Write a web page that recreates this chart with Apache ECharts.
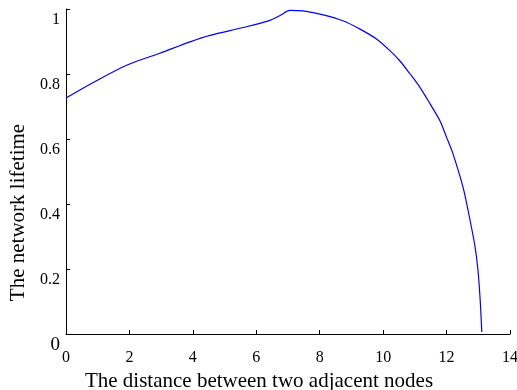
<!DOCTYPE html>
<html>
<head>
<meta charset="utf-8">
<script src="https://cdn.jsdelivr.net/npm/echarts@6/dist/echarts.min.js"></script>
<style>
html, body { margin: 0; padding: 0; background: #fff; }
#main { width: 517px; height: 390px; }
</style>
</head>
<body>
<div id="main"></div>
<script>
var distance = [0, 0.86, 1.91, 2.96, 3.91, 4.54, 5.59, 6.43, 6.75, 7.06, 7.48, 8.11, 8.75, 9.27, 9.8, 10.22, 10.53, 10.85, 11.16, 11.48, 11.79, 12.0, 12.2, 12.52, 12.74, 12.9, 12.99, 13.06, 13.11];
var lifetime = [0.726, 0.774, 0.827, 0.864, 0.899, 0.919, 0.943, 0.965, 0.98, 0.996, 0.994, 0.982, 0.963, 0.938, 0.907, 0.871, 0.84, 0.8, 0.759, 0.708, 0.656, 0.605, 0.555, 0.451, 0.35, 0.267, 0.196, 0.104, 0.006];

var points = distance.map(function (d, i) { return [d, lifetime[i]]; });

var myChart = echarts.init(document.getElementById('main'));
var font = 'Liberation Serif, Times New Roman, serif';

var option = {
    animation: false,
    grid: { left: 66, right: 7, top: 9, bottom: 56, containLabel: false, outerBoundsMode: 'none' },
    xAxis: {
        type: 'value',
        min: 0,
        max: 14,
        interval: 2,
        name: 'The distance between two adjacent nodes',
        nameLocation: 'middle',
        nameGap: 35,
        nameTextStyle: { fontFamily: font, fontSize: 21, color: '#000', padding: [0, 58, 0, 0] },
        axisLine: { lineStyle: { color: '#000', width: 1 } },
        axisTick: { inside: true, length: 4, lineStyle: { color: '#000' } },
        axisLabel: { fontFamily: font, fontSize: 16, color: '#000', margin: 16 },
        splitLine: { show: false }
    },
    yAxis: {
        type: 'value',
        min: 0,
        max: 1,
        interval: 0.2,
        name: 'The network lifetime',
        nameLocation: 'middle',
        nameGap: 37,
        nameTextStyle: { fontFamily: font, fontSize: 21, color: '#000', padding: [0, 82, 0, 0] },
        axisLine: { show: true, lineStyle: { color: '#000', width: 1 } },
        axisTick: { show: true, inside: true, length: 4, lineStyle: { color: '#000' } },
        axisLabel: {
            fontFamily: font,
            fontSize: 16,
            color: '#000',
            margin: 6,
            padding: [22, 0, 0, 0],
            formatter: function (v) { return v === 0 ? '{z|0}' : String(+v.toFixed(1)); },
            rich: { z: { fontFamily: font, fontSize: 19, color: '#000' } }
        },
        splitLine: { show: false }
    },
    series: [{
        type: 'line',
        data: points,
        showSymbol: false,
        smooth: 0.3,
        lineStyle: { color: '#0000ff', width: 1.2 }
    }]
};

myChart.setOption(option);
</script>
</body>
</html>
